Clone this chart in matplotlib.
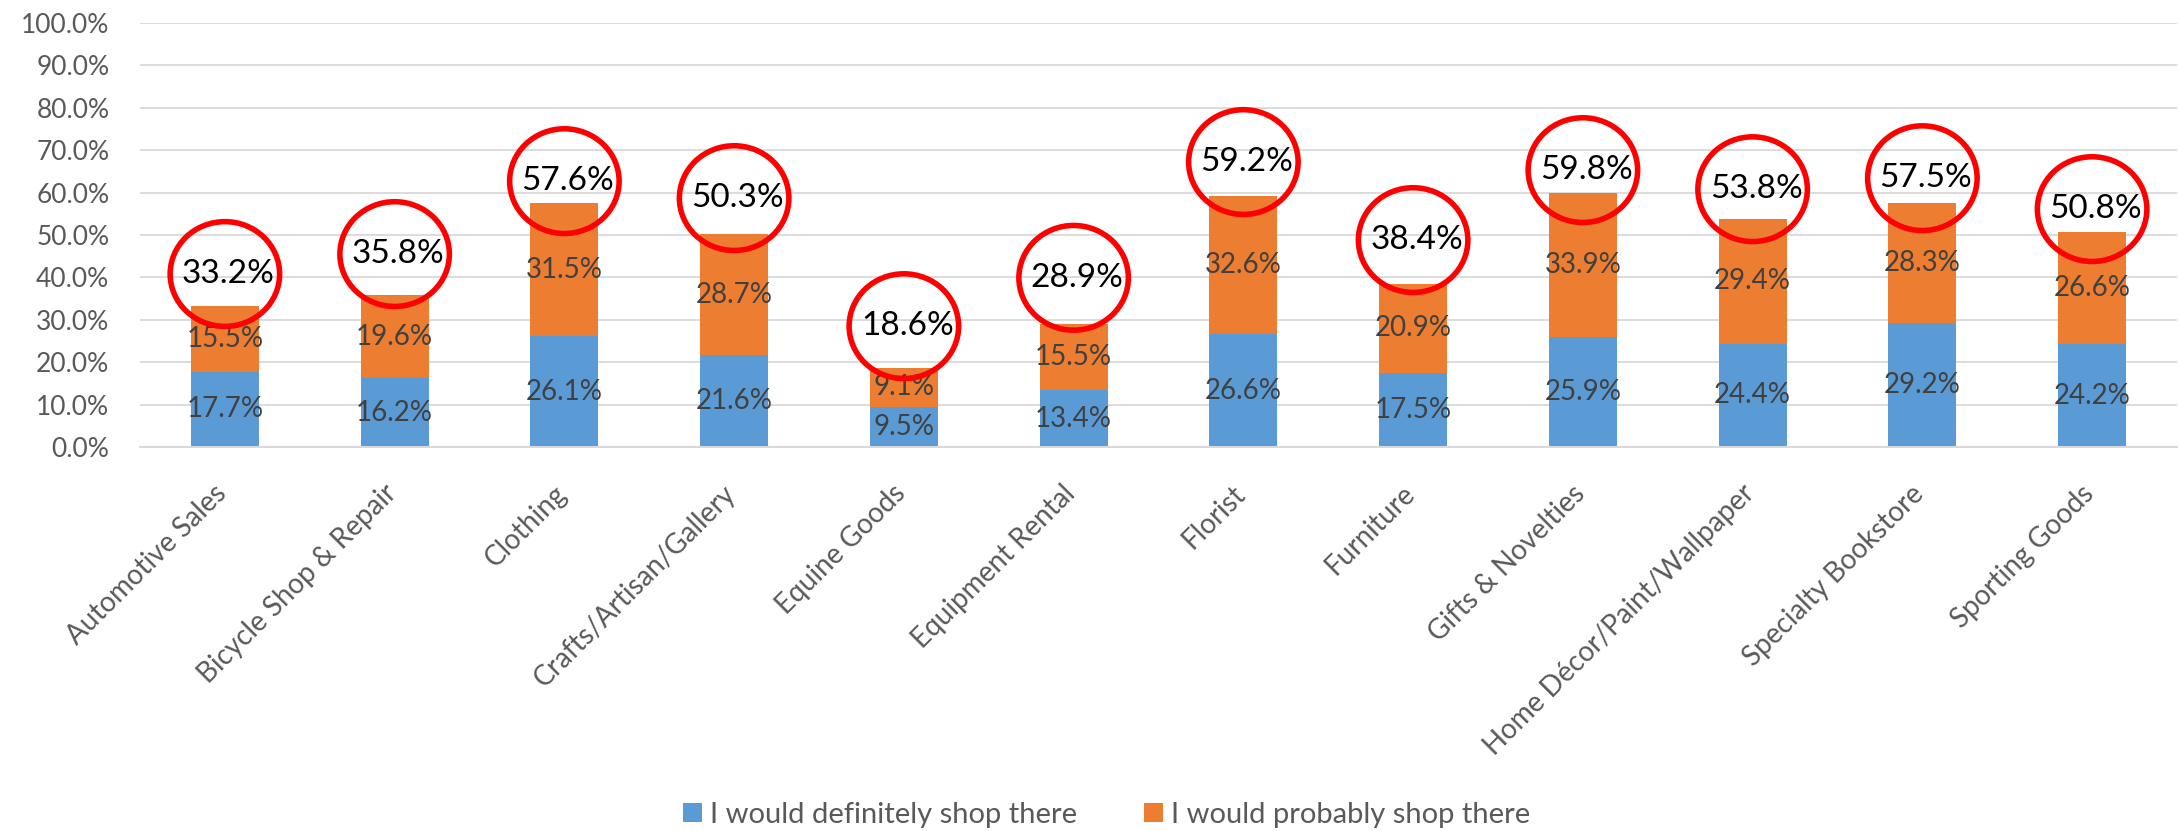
import matplotlib
matplotlib.use("Agg")
import matplotlib.pyplot as plt
from matplotlib.patches import Ellipse
from matplotlib.transforms import ScaledTranslation
import numpy as np

categories = ["Automotive Sales", "Bicycle Shop & Repair", "Clothing", "Crafts/Artisan/Gallery",
              "Equine Goods", "Equipment Rental", "Florist", "Furniture", "Gifts & Novelties",
              "Home Décor/Paint/Wallpaper", "Specialty Bookstore", "Sporting Goods"]
definitely = [17.7, 16.2, 26.1, 21.6, 9.5, 13.4, 26.6, 17.5, 25.9, 24.4, 29.2, 24.2]
probably = [15.5, 19.6, 31.5, 28.7, 9.1, 15.5, 32.6, 20.9, 33.9, 29.4, 28.3, 26.6]
totals = [33.2, 35.8, 57.6, 50.3, 18.6, 28.9, 59.2, 38.4, 59.8, 53.8, 57.5, 50.8]
# vertical centre of the red circled total labels (in % units)
circle_y = [40.8, 45.5, 62.7, 58.7, 28.5, 39.9, 67.2, 48.8, 65.3, 60.8, 63.4, 56.1]
series_names = ["I would definitely shop there", "I would probably shop there"]
yticks = [0, 10, 20, 30, 40, 50, 60, 70, 80, 90, 100]

FONT = "Lato"
plt.rcParams['font.family'] = [FONT, 'DejaVu Sans']

W, H, DPI = 2178, 831, 100
fig = plt.figure(figsize=(W / DPI, H / DPI), dpi=DPI)
ax = fig.add_axes([140 / W, 1 - 447 / H, (2177 - 140) / W, (447 - 23) / H])

x = np.arange(len(categories))
bw = 0.40
blue = "#5B9BD5"
orange = "#ED7D31"
b1 = ax.bar(x, definitely, bw, color=blue, label=series_names[0], zorder=2)
b2 = ax.bar(x, probably, bw, bottom=definitely, color=orange, label=series_names[1], zorder=2)

for i in range(len(categories)):
    ax.text(x[i], definitely[i] / 2, f"{definitely[i]:.1f}%", ha="center", va="center",
            fontsize=20, color="#404040", zorder=3)
    ax.text(x[i], definitely[i] + probably[i] / 2, f"{probably[i]:.1f}%", ha="center", va="center",
            fontsize=20, color="#404040", zorder=3)
    ax.text(x[i] + 0.02, circle_y[i], f"{totals[i]:.1f}%", ha="center", va="center",
            fontsize=24, color="black", zorder=5)
    ax.add_patch(Ellipse((x[i], circle_y[i]), 0.645, 24.7, fill=False, edgecolor="#FF0000",
                         linewidth=4.0, zorder=4, clip_on=False))

ax.set_xlim(-0.5, len(categories) - 0.5)
ax.set_ylim(0, 100)
ax.set_yticks(yticks)
ax.set_yticklabels([f"{v:.1f}%" for v in yticks])
ax.yaxis.grid(True, color="#D9D9D9", linewidth=1.3, zorder=0)
ax.set_axisbelow(True)
for s in ["top", "right", "left"]:
    ax.spines[s].set_visible(False)
ax.spines["bottom"].set_color("#D9D9D9")
ax.spines["bottom"].set_linewidth(1.5)
ax.tick_params(axis="y", length=0, pad=22, labelsize=19, labelcolor="#595959")
ax.tick_params(axis="x", length=0, pad=24, labelsize=20, labelcolor="#595959")
ax.set_xticks(x)
ax.set_xticklabels(categories, rotation=45, ha="right", va="top")
off = ScaledTranslation(7 / DPI, 0, fig.dpi_scale_trans)
for lab in ax.get_xticklabels():
    lab.set_transform(lab.get_transform() + off)

fig.legend(handles=[b1, b2], labels=series_names, loc="center", bbox_to_anchor=(1107 / W, 1 - 815 / H),
           ncol=2, frameon=False, fontsize=21, labelcolor="#595959",
           handlelength=0.62, handleheight=0.62, handletextpad=0.3, columnspacing=2.3,
           borderaxespad=0)

fig.savefig("out.png", dpi=DPI, facecolor="white")
